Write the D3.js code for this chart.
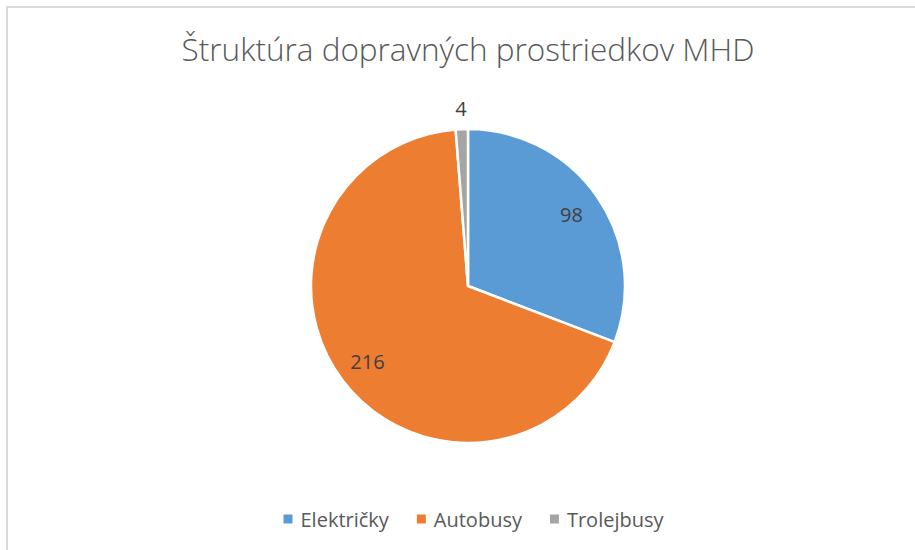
<!DOCTYPE html>
<html>
<head>
<meta charset="utf-8">
<script src="https://cdn.jsdelivr.net/npm/d3@7"></script>
<style>
  body { margin: 0; background: #fff; }
  svg { display: block; font-family: "Open Sans", "Noto Sans", sans-serif; }
</style>
</head>
<body>
<svg width="915" height="550"></svg>
<script>
const categories = ["Električky", "Autobusy", "Trolejbusy"];
const values = [98, 216, 4];
const colors = ["#5b9bd5", "#ed7d31", "#a5a5a5"];
const title = "Štruktúra dopravných prostriedkov MHD";

const WIDTH = 915,
  HEIGHT = 550,
  CX = 468,
  CY = 286,
  R = 157;

const svg = d3.select("svg");

// frame lines (top + left, like the cropped chart border)
svg.append("path")
  .attr("d", `M 7,${HEIGHT} V 7 H ${WIDTH}`)
  .attr("fill", "none")
  .attr("stroke", "#d9d9d9")
  .attr("stroke-width", 2);

svg.append("text")
  .attr("x", CX)
  .attr("y", 61)
  .attr("text-anchor", "middle")
  .attr("font-size", 31.5)
  .attr("font-weight", 300)
  .attr("fill", "#595959")
  .text(title);

const data = categories.map((c, i) => ({ name: c, value: values[i], color: colors[i] }));

const pie = d3.pie().sort(null).value(d => d.value);
const arcs = pie(data);

const arc = d3.arc().innerRadius(0).outerRadius(R);
const labelArc = d3.arc().innerRadius(R * 0.8).outerRadius(R * 0.8);
const outerLabelArc = d3.arc().innerRadius(R + 21).outerRadius(R + 21);

const g = svg.append("g").attr("transform", `translate(${CX},${CY})`);

g.selectAll("path.slice")
  .data(arcs)
  .enter()
  .append("path")
  .attr("class", "slice")
  .attr("d", arc)
  .attr("fill", d => d.data.color)
  .attr("stroke", "#fff")
  .attr("stroke-width", 2.5);

// small slices get their label outside
g.selectAll("text.lbl")
  .data(arcs)
  .enter()
  .append("text")
  .attr("class", "lbl")
  .attr("transform", d => {
    const small = d.endAngle - d.startAngle < 0.2;
    const p = (small ? outerLabelArc : labelArc).centroid(d);
    return `translate(${p[0]},${p[1]})`;
  })
  .attr("text-anchor", "middle")
  .attr("dominant-baseline", "central")
  .attr("font-size", 20)
  .attr("fill", "#404040")
  .text(d => d.data.value);

// legend
const legend = svg.append("g").attr("transform", `translate(0,519)`);
const items = legend.selectAll("g.item")
  .data(data)
  .enter()
  .append("g")
  .attr("class", "item");

items.append("rect")
  .attr("y", -4.5)
  .attr("width", 9)
  .attr("height", 9)
  .attr("fill", d => d.color);

items.append("text")
  .attr("x", 17)
  .attr("dominant-baseline", "central")
  .attr("font-size", 20)
  .attr("fill", "#595959")
  .text(d => d.name);

// lay out legend entries centred
let widths = [];
items.each(function() { widths.push(this.getBBox().width); });
const gap = 27;
const total = d3.sum(widths) + gap * (widths.length - 1);
let x = 474 - total / 2;
items.attr("transform", (d, i) => {
  const t = `translate(${x},0)`;
  x += widths[i] + gap;
  return t;
});
</script>
</body>
</html>
